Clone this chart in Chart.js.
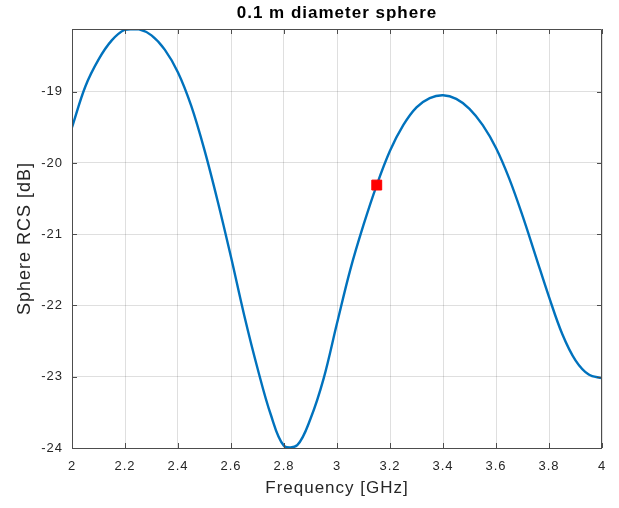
<!DOCTYPE html>
<html>
<head>
<meta charset="utf-8">
<title>0.1 m diameter sphere</title>
<script src="https://cdn.jsdelivr.net/npm/chart.js@4"></script>
<style>
  html, body { margin: 0; padding: 0; background: #fff; }
  #wrap { width: 619px; height: 508px; }
</style>
</head>
<body>
<div id="wrap"><canvas id="rcs-chart"></canvas></div>
<script>
// Sphere RCS vs frequency

const FREQ_GHZ = [
  2.00, 2.05, 2.10, 2.15, 2.20, 2.25, 2.30, 2.35, 2.40, 2.45,
  2.50, 2.55, 2.60, 2.65, 2.70, 2.75, 2.80, 2.85, 2.90, 2.95,
  3.00, 3.05, 3.10, 3.15, 3.20, 3.25, 3.30, 3.35, 3.40, 3.45,
  3.50, 3.55, 3.60, 3.65, 3.70, 3.75, 3.80, 3.85, 3.90, 3.95,
  4.00
];

const RCS_DB = [
  -19.50, -18.93, -18.55, -18.28, -18.13, -18.12, -18.21, -18.41, -18.73, -19.20,
  -19.82, -20.54, -21.32, -22.14, -22.88, -23.53, -23.97, -23.96, -23.59, -23.02,
  -22.25, -21.50, -20.87, -20.31, -19.83, -19.47, -19.22, -19.09, -19.05, -19.10,
  -19.24, -19.47, -19.79, -20.22, -20.74, -21.31, -21.88, -22.40, -22.77, -22.97,
  -23.02
];

// highlighted sample (red square)
const MARKER_FREQ = [3.15];
const MARKER_RCS = [-20.31];

const X_TICKS = [2, 2.2, 2.4, 2.6, 2.8, 3, 3.2, 3.4, 3.6, 3.8, 4];
const Y_TICKS = [-24, -23, -22, -21, -20, -19];
const X_RANGE = [2, 4];
const Y_RANGE = [-24, -18.12];

const TITLE = '0.1 m diameter sphere';
const X_LABEL = 'Frequency [GHz]';
const Y_LABEL = 'Sphere RCS [dB]';

const AXIS_COLOR = '#4d4d4d';
const TEXT_COLOR = '#262626';
const FONT = '"Liberation Sans", Arial, Helvetica, sans-serif';

Chart.defaults.font.family = FONT;
Chart.defaults.color = TEXT_COLOR;

// MATLAB-like box with inward ticks on all four sides, plus the title
const matlabAxes = {
  id: 'matlabAxes',
  beforeDraw(chart) {
    chart.ctx.letterSpacing = '1px';
  },
  afterDraw(chart) {
    const { ctx, chartArea: a, scales } = chart;
    const tl = 5;
    ctx.save();
    ctx.strokeStyle = AXIS_COLOR;
    ctx.lineWidth = 1;
    ctx.beginPath();
    ctx.rect(Math.round(a.left) + 0.5, Math.round(a.top) + 0.5,
      Math.round(a.right - a.left) - 1, Math.round(a.bottom - a.top));
    for (const t of scales.x.ticks) {
      const px = Math.round(scales.x.getPixelForValue(t.value)) + 0.5;
      ctx.moveTo(px, a.bottom); ctx.lineTo(px, a.bottom - tl);
      ctx.moveTo(px, a.top); ctx.lineTo(px, a.top + tl);
    }
    for (const t of scales.y.ticks) {
      const py = Math.round(scales.y.getPixelForValue(t.value)) + 0.5;
      ctx.moveTo(a.left, py); ctx.lineTo(a.left + tl, py);
      ctx.moveTo(a.right, py); ctx.lineTo(a.right - tl, py);
    }
    ctx.stroke();

    ctx.fillStyle = '#000';
    ctx.font = 'bold 17px ' + FONT;
    ctx.textAlign = 'center';
    ctx.textBaseline = 'middle';
    ctx.fillText(TITLE, (a.left + a.right) / 2, 13);
    ctx.restore();
    ctx.letterSpacing = '0px';
  }
};

new Chart(document.getElementById('rcs-chart').getContext('2d'), {
  type: 'line',
  data: {
    datasets: [
      {
        label: 'Marker',
        data: MARKER_FREQ.map((f, i) => ({ x: f, y: MARKER_RCS[i] })),
        showLine: false,
        pointStyle: 'rect',
        pointRadius: 7,
        pointBackgroundColor: '#ff0000',
        pointBorderColor: '#ff0000',
        pointBorderWidth: 1,
        order: 0
      },
      {
        label: 'RCS',
        data: FREQ_GHZ.map((f, i) => ({ x: f, y: RCS_DB[i] })),
        borderColor: '#0072bd',
        backgroundColor: 'transparent',
        borderWidth: 2.4,
        fill: false,
        tension: 0.35,
        pointRadius: 0,
        order: 1
      }
    ]
  },
  options: {
    responsive: true,
    maintainAspectRatio: false,
    animation: false,
    layout: { padding: { top: 29, right: 17, left: 0, bottom: 0 } },
    plugins: {
      legend: { display: false },
      tooltip: { enabled: false },
      title: { display: false }
    },
    scales: {
      x: {
        type: 'linear',
        min: X_RANGE[0],
        max: X_RANGE[1],
        afterBuildTicks: (s) => { s.ticks = X_TICKS.map(v => ({ value: v })); },
        afterFit: (s) => { s.height = 60; },
        border: { display: false },
        grid: { color: 'rgba(38,38,38,0.15)', drawTicks: false },
        ticks: { padding: 11, font: { size: 13 }, color: TEXT_COLOR, maxRotation: 0,
          callback: (v) => String(v) },
        title: { display: true, text: X_LABEL, font: { size: 17 }, color: TEXT_COLOR,
          padding: { top: 0, bottom: 9 } }
      },
      y: {
        type: 'linear',
        min: Y_RANGE[0],
        max: Y_RANGE[1],
        afterBuildTicks: (s) => { s.ticks = Y_TICKS.map(v => ({ value: v })); },
        afterFit: (s) => { s.width = 72; },
        border: { display: false },
        grid: { color: 'rgba(38,38,38,0.15)', drawTicks: false },
        ticks: { padding: 9, font: { size: 13 }, color: TEXT_COLOR,
          callback: (v) => String(v) },
        title: { display: true, text: Y_LABEL, font: { size: 18 }, color: TEXT_COLOR,
          padding: { top: 14, bottom: 0 } }
      }
    }
  },
  plugins: [matlabAxes]
});
</script>
</body>
</html>
